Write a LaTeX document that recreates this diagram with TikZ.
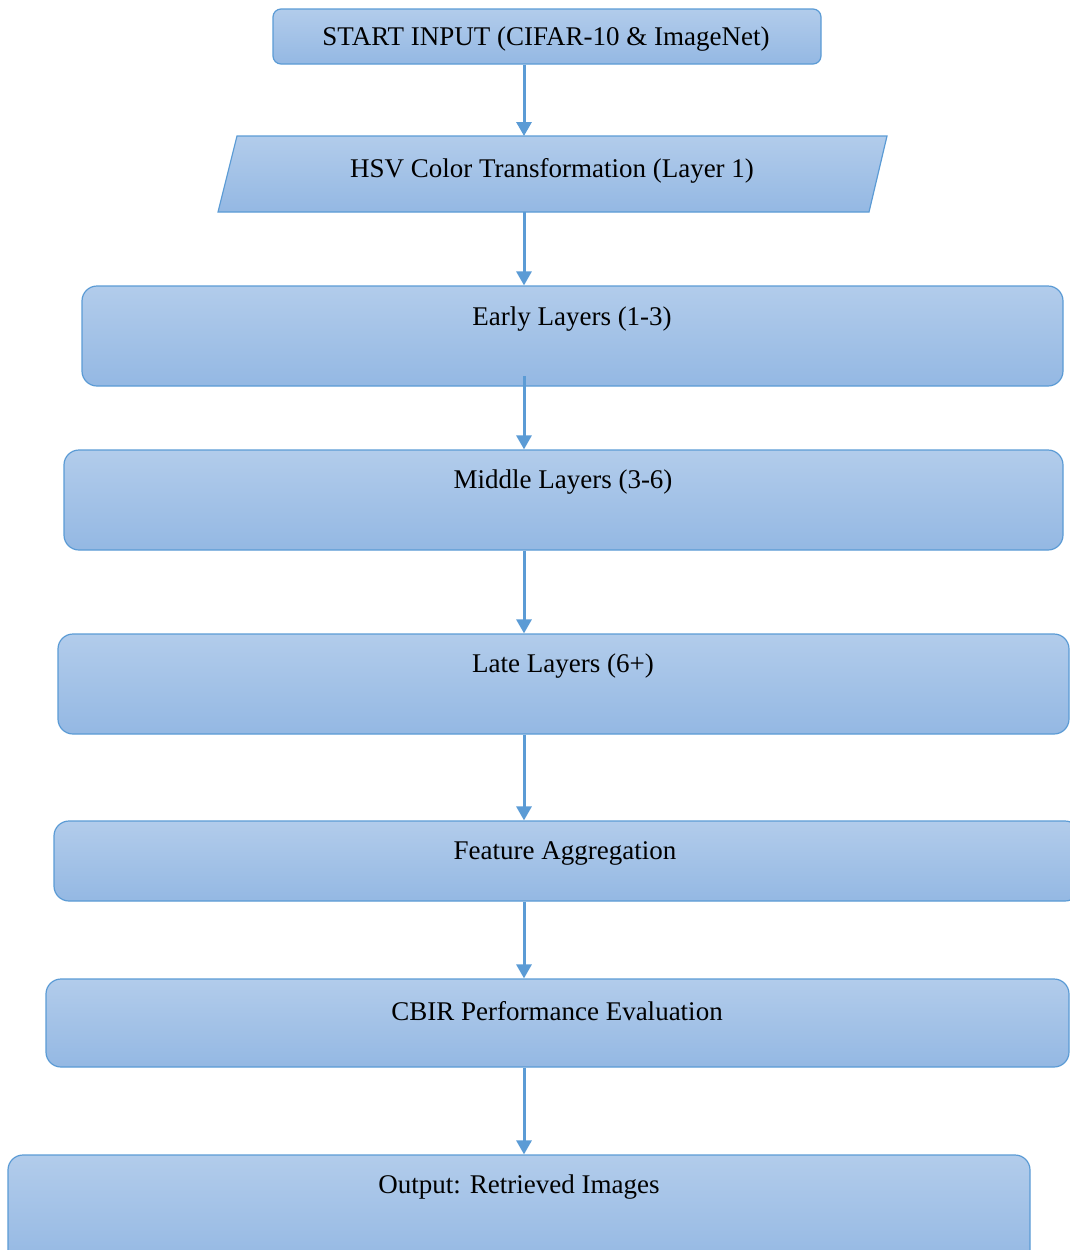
\documentclass[tikz,border=0pt]{standalone}
\usepackage{fontspec}
\setmainfont{Liberation Serif}
\usetikzlibrary{arrows.meta}
\definecolor{bordc}{HTML}{5B9BD5}
\definecolor{topc}{HTML}{B2CCEB}
\definecolor{botc}{HTML}{94B8E3}
\begin{document}
\begin{tikzpicture}[x=1pt,y=-1pt,
  box/.style={draw=bordc,line width=1.2pt,top color=topc,bottom color=botc,rounded corners=15pt,inner sep=0pt},
  lbl/.style={font=\fontsize{27}{31}\selectfont,inner sep=0pt,text=black},
  arr/.style={draw=bordc,line width=3pt,-{Triangle[width=15pt,length=14pt]}}]
\useasboundingbox (0,0) rectangle (1070,1250);
% boxes
\node[box,rounded corners=8pt,minimum width=548pt,minimum height=55pt] (start) at (547,36.5) {};
\coordinate (p1) at (237,136);
\coordinate (p2) at (887,136);
\coordinate (p3) at (869,212);
\coordinate (p4) at (218,212);
\path[draw=bordc,line width=1.2pt,top color=topc,bottom color=botc] (p1) -- (p2) -- (p3) -- (p4) -- cycle;
\coordinate (hsvTop) at (524,136);
\coordinate (hsvBot) at (524,212);
\node[box,minimum width=981pt,minimum height=100pt] (early) at (572.5,336) {};
\node[box,minimum width=999pt,minimum height=100pt] (middle) at (563.5,500) {};
\node[box,minimum width=1011pt,minimum height=100pt] (late) at (563.5,684) {};
\node[box,minimum width=1026pt,minimum height=80pt] (feat) at (567,861) {};
\node[box,minimum width=1023pt,minimum height=88pt] (cbir) at (557.5,1023) {};
\node[box,minimum width=1022pt,minimum height=110pt] (out) at (519,1210) {};
% labels
\node[lbl] (startT) at (546,39) {START INPUT (CIFAR-10 \& ImageNet)};
\node[lbl] (hsvT) at (552,171) {HSV Color Transformation (Layer 1)};
\node[lbl] (earlyT) at (572,319) {Early Layers (1-3)};
\node[lbl] (middleT) at (563,482) {Middle Layers (3-6)};
\node[lbl] (lateT) at (563,666) {Late Layers (6+)};
\node[lbl] (featT) at (565,853) {Feature Aggregation};
\node[lbl] (cbirT) at (557,1011) {CBIR Performance Evaluation};
\node[lbl] (outT) at (519,1187) {Output: Retrieved Images};
% arrows
\coordinate (ax) at (524,0);
\coordinate (earlyIn) at (524,376);
\draw[arr] (start.south -| ax) -- (hsvTop);
\draw[arr] (hsvBot) -- (early.north -| ax);
\draw[arr] (earlyIn) -- (middle.north -| ax);
\draw[arr] (middle.south -| ax) -- (late.north -| ax);
\draw[arr] (late.south -| ax) -- (feat.north -| ax);
\draw[arr] (feat.south -| ax) -- (cbir.north -| ax);
\draw[arr] (cbir.south -| ax) -- (out.north -| ax);
\end{tikzpicture}
\end{document}
